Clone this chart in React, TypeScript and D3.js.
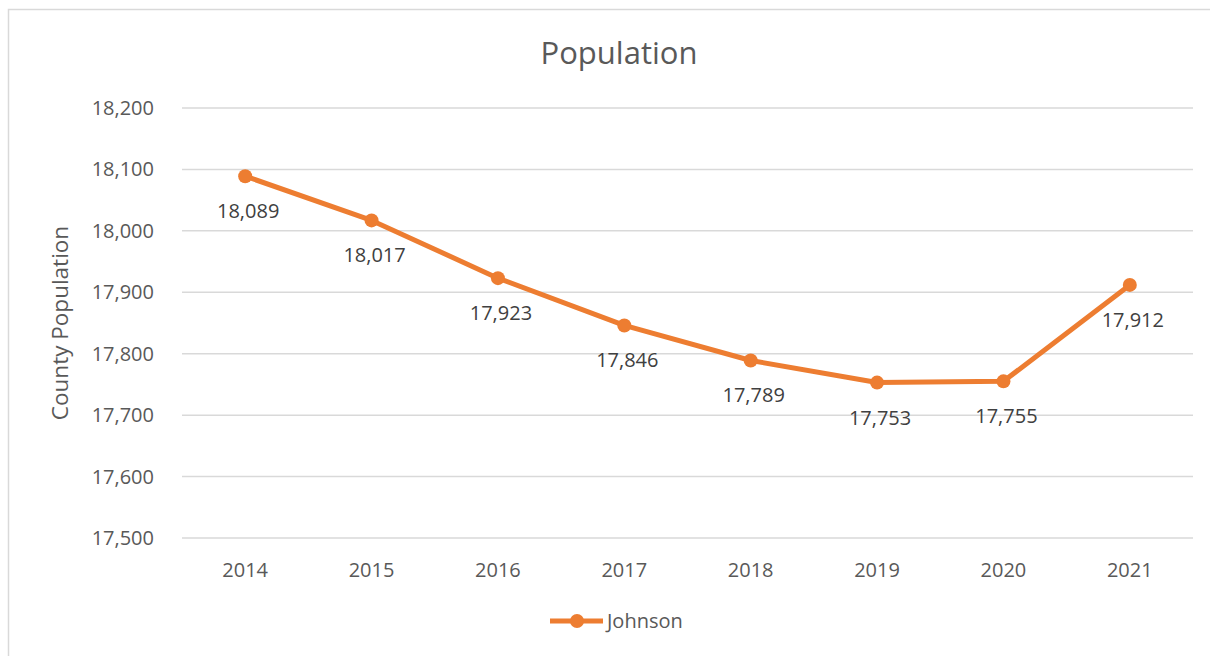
import React, { useEffect, useRef } from 'react'
import * as d3 from 'd3'

const years = ['2014', '2015', '2016', '2017', '2018', '2019', '2020', '2021']
const population = [18089, 18017, 17923, 17846, 17789, 17753, 17755, 17912]
const yTicks = [17500, 17600, 17700, 17800, 17900, 18000, 18100, 18200]
const seriesName = 'Johnson'

const W = 1210, H = 656
const FONT = '"Open Sans", sans-serif'
const TEXT = '#595959'
const ORANGE = '#ED7D31'

export default function App() {
  const svgRef = useRef<SVGSVGElement>(null)

  useEffect(() => {
    const svg = d3.select(svgRef.current)
    svg.selectAll('*').remove()

    const margin = { top: 108, left: 182, right: 17, bottom: 118 }
    const width = W - margin.left - margin.right
    const height = H - margin.top - margin.bottom

    const x = d3.scaleBand().domain(years).range([0, width])
    const y = d3.scaleLinear().domain([17500, 18200]).range([height, 0])
    const fmt = d3.format(',')

    // chart frame
    svg.append('rect')
      .attr('x', 8.5).attr('y', 9.5)
      .attr('width', W + 20).attr('height', H + 20)
      .attr('fill', '#fff').attr('stroke', '#d9d9d9').attr('stroke-width', 1.5)

    svg.append('text')
      .attr('x', 619).attr('y', 64)
      .attr('text-anchor', 'middle')
      .style('font', `31px ${FONT}`).attr('fill', TEXT)
      .text('Population')

    const g = svg.append('g').attr('transform', `translate(${margin.left},${margin.top})`)

    g.selectAll('.grid').data(yTicks).enter().append('line')
      .attr('x1', 0).attr('x2', width)
      .attr('y1', d => y(d)).attr('y2', d => y(d))
      .attr('stroke', '#d9d9d9').attr('stroke-width', 1.5)

    g.selectAll('.ytick').data(yTicks).enter().append('text')
      .attr('x', -28).attr('y', d => y(d)).attr('dy', '0.35em')
      .attr('text-anchor', 'end')
      .style('font', `20px ${FONT}`).attr('fill', TEXT)
      .text(d => fmt(d))

    g.selectAll('.xtick').data(years).enter().append('text')
      .attr('x', d => x(d)! + x.bandwidth() / 2).attr('y', height + 39)
      .attr('text-anchor', 'middle')
      .style('font', `20px ${FONT}`).attr('fill', TEXT)
      .text(d => d)

    svg.append('text')
      .attr('transform', `translate(68,${margin.top + height / 2}) rotate(-90)`)
      .attr('text-anchor', 'middle')
      .style('font', `22.5px ${FONT}`).attr('fill', TEXT)
      .text('County Population')

    const line = d3.line<number>()
      .x((d, i) => x(years[i])! + x.bandwidth() / 2)
      .y(d => y(d))

    g.append('path').datum(population)
      .attr('d', line)
      .attr('fill', 'none').attr('stroke', ORANGE)
      .attr('stroke-width', 5).attr('stroke-linejoin', 'round')

    g.selectAll('.pt').data(population).enter().append('circle')
      .attr('cx', (d, i) => x(years[i])! + x.bandwidth() / 2)
      .attr('cy', d => y(d))
      .attr('r', 7).attr('fill', ORANGE)

    g.selectAll('.lbl').data(population).enter().append('text')
      .attr('x', (d, i) => x(years[i])! + x.bandwidth() / 2 + 3)
      .attr('y', d => y(d) + 42)
      .attr('text-anchor', 'middle')
      .style('font', `20px ${FONT}`).attr('fill', '#404040')
      .text(d => fmt(d))

    // legend
    const lg = svg.append('g').attr('transform', 'translate(577,621)')
    lg.append('line').attr('x1', -27).attr('x2', 26)
      .attr('stroke', ORANGE).attr('stroke-width', 5)
    lg.append('circle').attr('r', 7).attr('fill', ORANGE)
    lg.append('text').attr('x', 30).attr('dy', '0.35em')
      .style('font', `20px ${FONT}`).attr('fill', TEXT)
      .text(seriesName)
  }, [])

  return <svg ref={svgRef} width={W} height={H} style={{ position: 'absolute', left: 0, top: 0 }} />
}
